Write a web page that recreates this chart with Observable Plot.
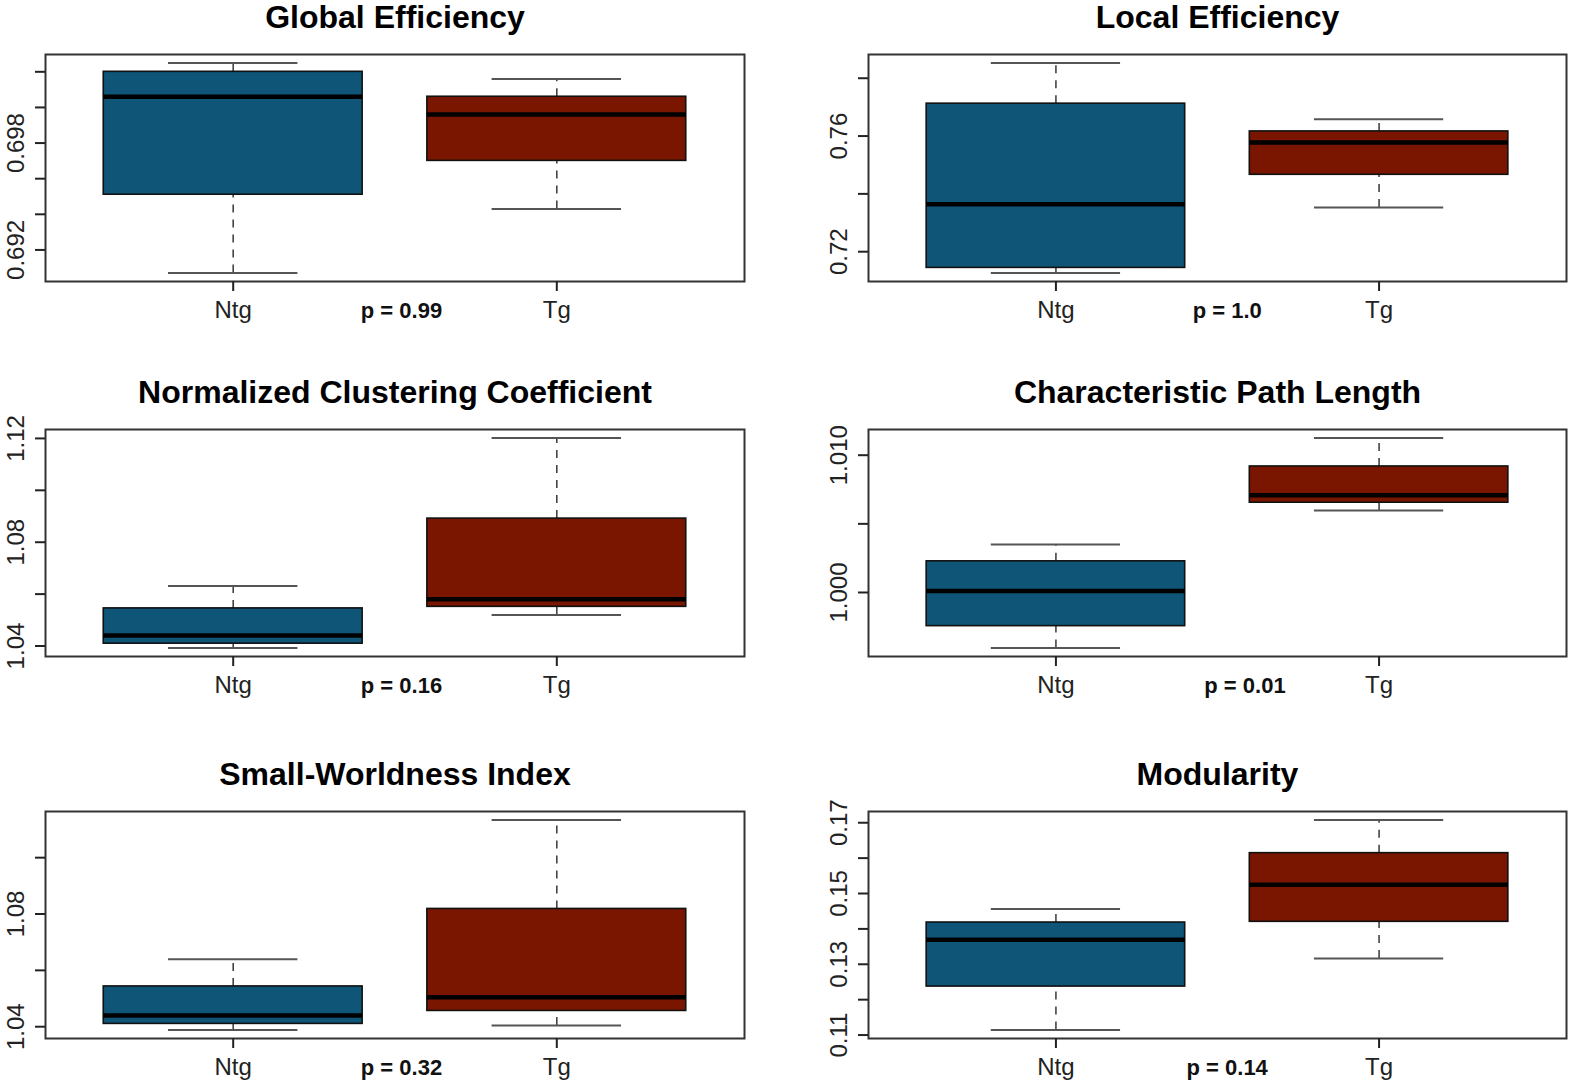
<!DOCTYPE html>
<html><head><meta charset="utf-8">
<script src="https://cdn.jsdelivr.net/npm/d3@7"></script>
<script src="https://cdn.jsdelivr.net/npm/@observablehq/plot@0.6"></script>
<style>
html,body{margin:0;padding:0;background:#fff;}
#chart{position:relative;width:1573px;height:1083px;overflow:hidden;background:#fff;}
#chart svg{position:absolute;}
</style></head><body><div id="chart"></div>
<script>
// ---- data ----
const metrics = ["Global Efficiency", "Local Efficiency", "Normalized Clustering Coefficient", "Characteristic Path Length", "Small-Worldness Index", "Modularity"];
const groups = ["Ntg", "Tg"];
const pValues = ["p = 0.99", "p = 1.0", "p = 0.16", "p = 0.01", "p = 0.32", "p = 0.14"];
// five-number summaries: [min, q1, median, q3, max]
const ntgStats = [
  [0.6907, 0.6951, 0.7006, 0.7020, 0.7025],
  [0.7126, 0.7144, 0.7364, 0.7712, 0.7853],
  [1.0392, 1.0409, 1.0441, 1.0545, 1.0631],
  [0.99595, 0.99755, 1.0001, 1.00227, 1.00349],
  [1.0388, 1.0410, 1.0440, 1.0543, 1.0639],
  [0.1114, 0.1237, 0.1369, 0.1418, 0.1456]
];
const tgStats = [
  [0.6943, 0.6970, 0.6996, 0.7006, 0.7016],
  [0.7353, 0.7466, 0.7578, 0.7616, 0.7658],
  [1.0520, 1.0551, 1.0580, 1.0891, 1.1202],
  [1.00598, 1.00654, 1.00709, 1.00918, 1.01126],
  [1.0404, 1.0456, 1.0505, 1.0818, 1.1134],
  [0.1316, 0.1420, 0.1525, 0.1614, 0.1708]
];
const yTicks = [
  [0.692, 0.694, 0.696, 0.698, 0.700, 0.702],
  [0.72, 0.74, 0.76, 0.78],
  [1.04, 1.06, 1.08, 1.10, 1.12],
  [1.000, 1.005, 1.010],
  [1.04, 1.06, 1.08, 1.10],
  [0.11, 0.12, 0.13, 0.14, 0.15, 0.16, 0.17]
];
const yTickLabels = [
  ["0.692", "", "", "0.698", "", ""],
  ["0.72", "", "0.76", ""],
  ["1.04", "", "1.08", "", "1.12"],
  ["1.000", "", "1.010"],
  ["1.04", "", "1.08", ""],
  ["0.11", "", "0.13", "", "0.15", "", "0.17"]
];

// ---- layout / style ----
const groupColors = ["#0E5577", "#7A1600"];
const pLabelX = [1.52, 1.53, 1.52, 1.585, 1.52, 1.53];
const frames = [
  [45, 54, 744, 281], [868, 54, 1566, 281],
  [45, 429, 744, 656], [868, 429, 1566, 656],
  [45, 811, 744, 1038], [868, 811, 1566, 1038]
];
const boxwex = 0.8, staplewex = 0.5;
const font = "'Liberation Sans', Arial, Helvetica, sans-serif";
const chart = document.getElementById("chart");

metrics.forEach((title, i) => {
  const rows = groups.map((name, j) => {
    const s = (j === 0 ? ntgStats : tgStats)[i];
    return {g: j + 1, name, min: s[0], q1: s[1], med: s[2], q3: s[3], max: s[4]};
  });
  const lo = d3.min(rows, d => d.min), hi = d3.max(rows, d => d.max);
  const pad = (hi - lo) * 0.04;
  const labelMap = new Map(yTicks[i].map((t, k) => [t, yTickLabels[i][k]]));
  const [fx0, fy0, fx1, fy1] = frames[i];
  const mL = 45, mT = 54, mR = 6, mB = 44;
  const hw = boxwex / 2, sw = boxwex * staplewex / 2;
  const svg = Plot.plot({
    width: fx1 - fx0 + mL + mR,
    height: fy1 - fy0 + mT + mB,
    marginLeft: mL, marginTop: mT, marginRight: mR, marginBottom: mB,
    x: {domain: [0.42, 2.58]},
    y: {domain: [lo - pad, hi + pad]},
    color: {domain: groups, range: groupColors},
    style: {fontFamily: font, fontSize: "24px", color: "#222", background: "transparent", overflow: "visible"},
    marks: [
      Plot.ruleX(rows, {x: "g", y1: "q3", y2: "max", stroke: "#444", strokeWidth: 1.6, strokeDasharray: "8,7"}),
      Plot.ruleX(rows, {x: "g", y1: "min", y2: "q1", stroke: "#444", strokeWidth: 1.6, strokeDasharray: "8,7"}),
      Plot.ruleY(rows, {y: "max", x1: d => d.g - sw, x2: d => d.g + sw, stroke: "#555", strokeWidth: 2}),
      Plot.ruleY(rows, {y: "min", x1: d => d.g - sw, x2: d => d.g + sw, stroke: "#555", strokeWidth: 2}),
      Plot.rect(rows, {x1: d => d.g - hw, x2: d => d.g + hw, y1: "q1", y2: "q3", fill: "name", stroke: "#111", strokeWidth: 1.6}),
      Plot.ruleY(rows, {y: "med", x1: d => d.g - hw, x2: d => d.g + hw, stroke: "#000", strokeWidth: 4.5}),
      Plot.frame({stroke: "#333", strokeWidth: 2}),
      Plot.axisY(yTicks[i], {anchor: "left", tickSize: 10, tickPadding: 12, tickRotate: -90,
        tickFormat: d => labelMap.get(d), label: null, strokeWidth: 2, fontSize: 24}),
      Plot.axisX([1, 2], {anchor: "bottom", tickSize: 10, tickPadding: 9,
        tickFormat: d => groups[d - 1], label: null, strokeWidth: 2, fontSize: 24}),
      Plot.text([pValues[i]], {x: pLabelX[i], frameAnchor: "bottom", lineAnchor: "top", dy: 21,
        text: d => d, fontWeight: "bold", fontSize: 22, fill: "#111"}),
      Plot.text([title], {frameAnchor: "top", lineAnchor: "bottom", dy: -27,
        text: d => d, fontWeight: "bold", fontSize: 32, fill: "#000"})
    ]
  });
  svg.style.left = (fx0 - mL) + "px";
  svg.style.top = (fy0 - mT) + "px";
  chart.appendChild(svg);
});
</script>
</body></html>
